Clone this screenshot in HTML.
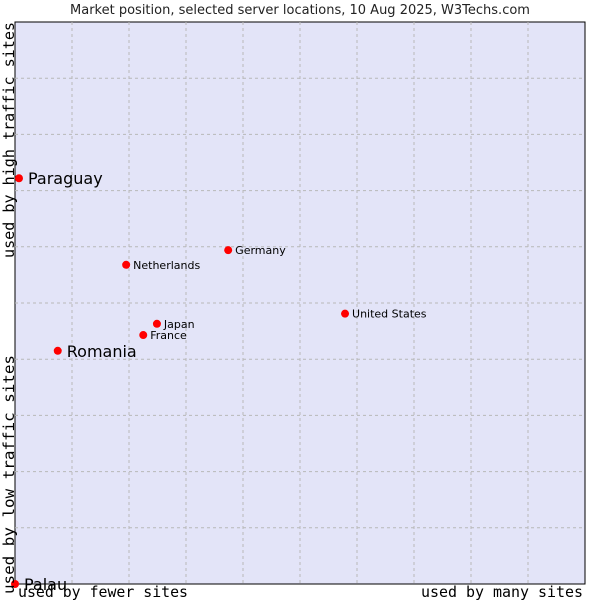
<!DOCTYPE html>
<html><head><meta charset="utf-8"><style>
body{margin:0;background:#fff;width:600px;height:600px;overflow:hidden}
svg{display:block}
</style></head><body>
<svg id="chart" width="600" height="600" xmlns="http://www.w3.org/2000/svg">
<text x="300" y="14" text-anchor="middle" font-family="DejaVu Sans, sans-serif" font-size="13" fill="#222">Market position, selected server locations, 10 Aug 2025, W3Techs.com</text>
<rect x="15" y="22" width="570" height="562" fill="#e3e4f8" stroke="#000" stroke-width="1"/>
<g id="grid"></g>
<g id="points"></g>
<text x="0" y="0" transform="translate(14,258) rotate(-90)" textLength="236" lengthAdjust="spacingAndGlyphs" font-family="DejaVu Sans Mono, Liberation Mono, monospace" font-size="15" fill="#000">used by high traffic sites</text>
<text x="0" y="0" transform="translate(14,594) rotate(-90)" textLength="239" lengthAdjust="spacingAndGlyphs" font-family="DejaVu Sans Mono, Liberation Mono, monospace" font-size="15" fill="#000">used by low traffic sites</text>
<text x="18" y="597" textLength="170" lengthAdjust="spacingAndGlyphs" font-family="DejaVu Sans Mono, Liberation Mono, monospace" font-size="15" fill="#000">used by fewer sites</text>
<text x="421" y="597" textLength="162" lengthAdjust="spacingAndGlyphs" font-family="DejaVu Sans Mono, Liberation Mono, monospace" font-size="15" fill="#000">used by many sites</text>
</svg>
<script>
const names=["Paraguay","Romania","Palau","Netherlands","Germany","Japan","France","United States"];
const xVals=[0.7,7.5,0,19.5,37.4,24.9,22.5,57.9];
const yVals=[72.2,41.5,0,56.8,59.4,46.3,44.3,48.1];
const bigLabels=["Paraguay","Romania","Palau"];
const X0=15,X1=585,Y0=584,Y1=22;
const sx=v=>X0+(X1-X0)*v/100;
const sy=v=>Y0-(Y0-Y1)*v/100;
const NS="http://www.w3.org/2000/svg";
const grid=document.getElementById('grid');
for(let i=1;i<10;i++){
  const v=document.createElementNS(NS,'line');
  v.setAttribute('x1',sx(i*10));v.setAttribute('x2',sx(i*10));v.setAttribute('y1',Y1);v.setAttribute('y2',Y0);
  v.setAttribute('stroke','#b8b8b8');v.setAttribute('stroke-dasharray','3,3');
  
  
  grid.appendChild(v);
  const h=document.createElementNS(NS,'line');
  h.setAttribute('y1',sy(i*10));h.setAttribute('y2',sy(i*10));h.setAttribute('x1',X0);h.setAttribute('x2',X1);
  h.setAttribute('stroke','#b8b8b8');h.setAttribute('stroke-dasharray','3,3');
  
  
  grid.appendChild(h);
}
const pts=document.getElementById('points');
names.forEach((n,i)=>{
  const cx=sx(xVals[i]),cy=sy(yVals[i]);
  const c=document.createElementNS(NS,'circle');
  c.setAttribute('cx',cx);c.setAttribute('cy',cy);c.setAttribute('r',4);c.setAttribute('fill','#ff0000');
  
  
  pts.appendChild(c);
  const big=bigLabels.includes(n);
  const t=document.createElementNS(NS,'text');
  t.setAttribute('x',cx+(big?9:7));t.setAttribute('y',cy+(big?6:4));
  t.setAttribute('font-family','DejaVu Sans, sans-serif');
  t.setAttribute('font-size',big?16:11);t.setAttribute('fill','#000');
  t.textContent=n;
  
  
  pts.appendChild(t);
});
</script>
</body></html>
